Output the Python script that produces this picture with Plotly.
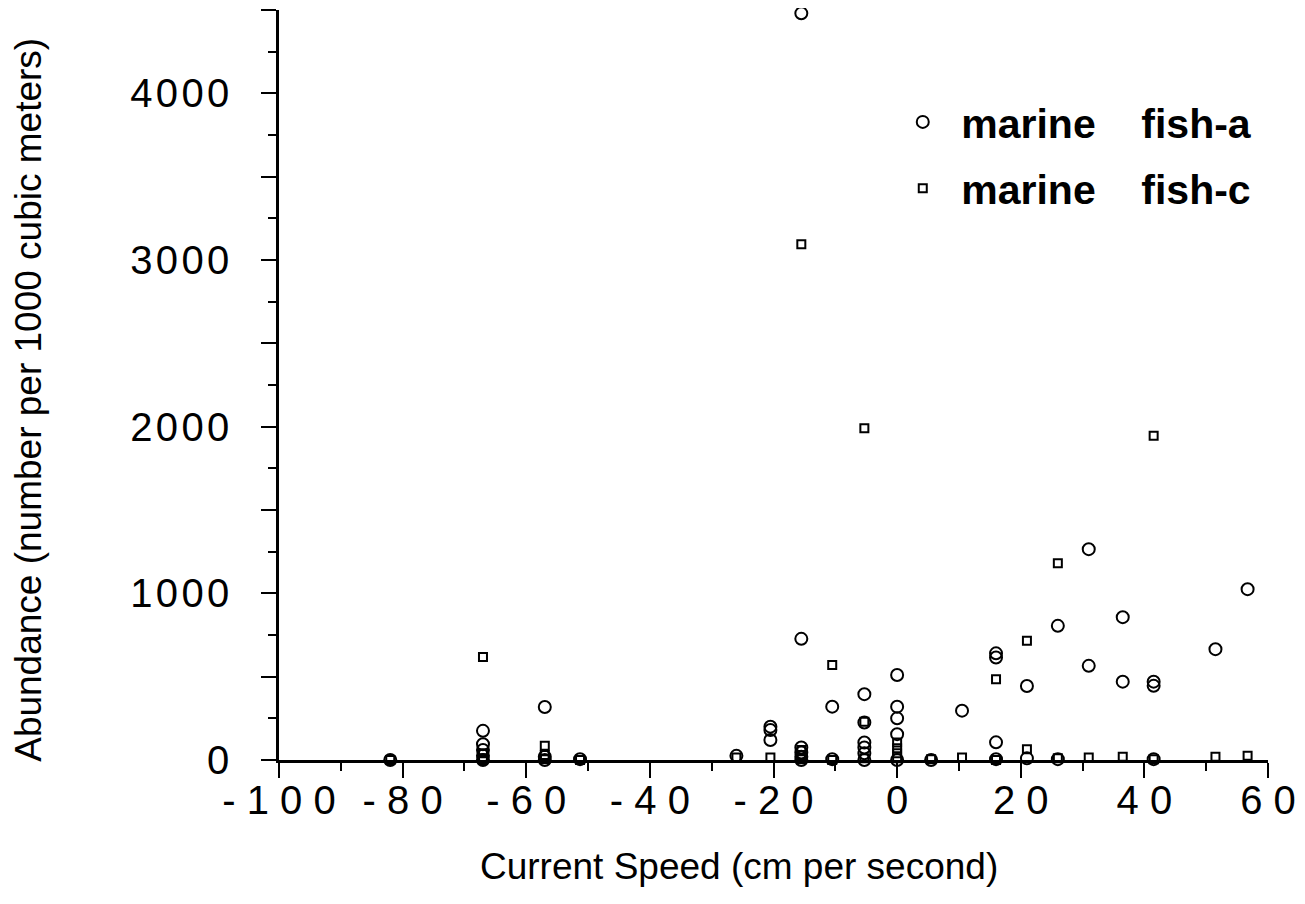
import plotly.graph_objects as go

# current speed (cm/s) and abundance (number per 1000 m3)
speed_a = [-82,
           -67, -67, -67, -67, -67,
           -57, -57, -57,
           -51.3,
           -26,
           -20.5, -20.5, -20.5,
           -15.5, -15.5, -15.5, -15.5, -15.5, -15.5,
           -10.5, -10.5,
           -5.3, -5.3, -5.3, -5.3, -5.3, -5.3,
           0, 0, 0, 0, 0,
           5.5,
           10.5,
           16, 16, 16, 16,
           21, 21,
           26, 26,
           31, 31,
           36.5, 36.5,
           41.5, 41.5, 41.5,
           51.5,
           56.7]
abund_a = [0,
           175, 95, 60, 25, 0,
           318, 20, 0,
           5,
           25,
           200, 180, 120,
           4480, 727, 75, 45, 20, 0,
           320, 5,
           395, 225, 105, 75, 40, 0,
           510, 320, 250, 155, 0,
           0,
           296,
           640, 615, 106, 5,
           444, 10,
           805, 5,
           1265, 565,
           857, 470,
           470, 445, 5,
           665,
           1025]

speed_c = [-82,
           -67, -67, -67, -67,
           -57, -57, -57,
           -51.3,
           -26,
           -20.5,
           -15.5, -15.5, -15.5, -15.5,
           -10.5, -10.5,
           -5.3, -5.3, -5.3,
           0, 0, 0, 0,
           5.5,
           10.5,
           16, 16,
           21, 21,
           26, 26,
           31,
           36.5,
           41.5, 41.5,
           51.5,
           56.7]
abund_c = [0,
           618, 40, 10, 0,
           86, 30, 5,
           0,
           15,
           15,
           3095, 60, 30, 5,
           570, 0,
           1990, 230, 10,
           105, 70, 40, 10,
           5,
           15,
           485, 0,
           716, 65,
           1180, 10,
           15,
           20,
           1946, 5,
           20,
           25]

x_ticks = list(range(-100, 61, 20))
y_ticks = list(range(0, 4501, 500))
y_labels = [v if v % 1000 == 0 else None for v in y_ticks]

FONT = "Liberation Sans"


def spaced(v, sep):
    return sep.join(str(v))


fig = go.Figure()
fig.add_trace(go.Scatter(
    x=speed_a, y=abund_a, mode="markers",
    name="<b>marine\u00a0\u00a0\u00a0\u00a0fish-a</b>",
    legendgroup="a",
    marker=dict(symbol="circle-open", size=12, color="black",
                line=dict(width=2, color="black")),
    cliponaxis=False,
))
fig.add_trace(go.Scatter(
    x=speed_c, y=abund_c, mode="markers",
    name="<b>marine\u00a0\u00a0\u00a0\u00a0fish-c</b>",
    legendgroup="c",
    marker=dict(symbol="square-open", size=8, color="black",
                line=dict(width=2, color="black")),
    cliponaxis=False,
))

fig.update_layout(
    width=1289, height=888,
    paper_bgcolor="white", plot_bgcolor="white",
    margin=dict(l=271, r=29, t=2, b=136),
    font=dict(family=FONT, color="black"),
    showlegend=True,
    legend=dict(
        x=0.612, y=0.895, xanchor="left", yanchor="top",
        font=dict(size=41, family=FONT),
        itemwidth=67,
        traceorder="grouped", tracegroupgap=10,
        bgcolor="rgba(0,0,0,0)",
    ),
    xaxis=dict(
        range=[-100, 60],
        showgrid=False, zeroline=False,
        showline=True, linewidth=2.5, linecolor="black",
        ticks="outside", ticklen=15, tickwidth=2, tickcolor="black",
        tickvals=x_ticks, ticktext=[spaced(v, " ") for v in x_ticks],
        tickfont=dict(size=40, family=FONT),
        ticklabelstandoff=-12,
        minor=dict(dtick=10, ticks="outside", ticklen=8, tickwidth=2, tickcolor="black"),
    ),
    yaxis=dict(
        range=[0, 4500],
        showgrid=False, zeroline=False,
        showline=True, linewidth=2.5, linecolor="black",
        ticks="outside", ticklen=15, tickwidth=2, tickcolor="black",
        tickvals=y_ticks,
        ticktext=[spaced(v, "\u200a") if v is not None else "" for v in y_labels],
        tickfont=dict(size=40, family=FONT),
        ticklabelstandoff=24,
        minor=dict(dtick=250, ticks="outside", ticklen=8, tickwidth=2, tickcolor="black"),
    ),
    annotations=[
        dict(text="Current Speed (cm per second)", xref="paper", yref="paper",
             x=0.465, y=-0.142, xanchor="center", yanchor="middle",
             showarrow=False, font=dict(size=37, family=FONT)),
        dict(text="Abundance (number per 1000 cubic meters)", xref="paper", yref="paper",
             x=-0.254, y=0.48, xanchor="center", yanchor="middle", textangle=-90,
             showarrow=False, font=dict(size=37, family=FONT)),
    ],
)

fig.write_html("out.html")
